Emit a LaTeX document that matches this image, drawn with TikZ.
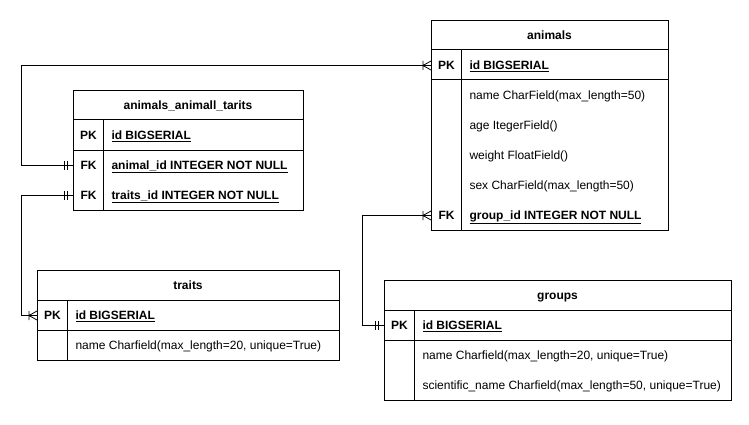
\documentclass[tikz,border=0pt]{standalone}
\usepackage{fontspec}
\setmainfont{Liberation Sans}
\begin{document}
\begin{tikzpicture}[x=1pt,y=-1pt,line width=1pt,
  tbl/.style={draw,anchor=north west,inner sep=0pt},
  hdr/.style={anchor=base,font=\fontsize{12}{14}\selectfont\bfseries,inner sep=0pt},
  keycell/.style={anchor=north west,minimum width=30pt,minimum height=30pt,inner sep=0pt,text height=8.6pt,text depth=0pt,font=\fontsize{12}{14}\selectfont\bfseries},
  fld/.style={anchor=base west,inner sep=0pt,font=\fontsize{12}{14}\selectfont},
  keyfld/.style={anchor=base west,inner sep=0pt,font=\fontsize{12}{14}\selectfont\bfseries},
  crow/.pic={\draw[line width=0.8pt] (-8,-4.5) -- (-8,4.5) (-8,0) -- (0,-4.5) (-8,0) -- (0,4.5);},
  onebar/.pic={\draw[line width=0.8pt] (-9,-4.5) -- (-9,4.5) (-6,-4.5) -- (-6,4.5);}
]
\useasboundingbox (0,0) rectangle (749,425);
\newcommand{\ul}[1]{\underline{#1}}
% ---------- animals ----------
\node[tbl,minimum width=237pt,minimum height=210pt] (animals) at (431,20) {};
\node[hdr] (animals-h) at (549.5,39.3) {animals};
\draw (431,50) -- (668,50) (431,80) -- (668,80) (461,50) -- (461,230);
\node[keycell] (anPK) at (431,50) {PK};
\node[keycell] (anFK) at (431,200) {FK};
\node[keyfld] (an-id) at (469,69.3) {\ul{id BIGSERIAL}};
\node[fld] (an-name) at (469,99.3) {name CharField(max\_length=50)};
\node[fld] (an-age) at (469,129.3) {age ItegerField()};
\node[fld] (an-weight) at (469,159.3) {weight FloatField()};
\node[fld] (an-sex) at (469,189.3) {sex CharField(max\_length=50)};
\node[keyfld] (an-group) at (469,219.3) {\ul{group\_id INTEGER NOT NULL}};
% ---------- animals_animall_tarits ----------
\node[tbl,minimum width=230pt,minimum height=120pt] (aat) at (73,90) {};
\node[hdr] (aat-h) at (188,109.3) {animals\_animall\_tarits};
\draw (73,120) -- (303,120) (73,150) -- (303,150) (103,120) -- (103,210);
\node[keycell] (aatPK) at (73,120) {PK};
\node[keycell] (aatFK1) at (73,150) {FK};
\node[keycell] (aatFK2) at (73,180) {FK};
\node[keyfld] (aat-id) at (111,139.3) {\ul{id BIGSERIAL}};
\node[keyfld] (aat-an) at (111,169.3) {\ul{animal\_id INTEGER NOT NULL}};
\node[keyfld] (aat-tr) at (111,199.3) {\ul{traits\_id INTEGER NOT NULL}};
% ---------- traits ----------
\node[tbl,minimum width=302pt,minimum height=90pt] (traits) at (37,270) {};
\node[hdr] (traits-h) at (188,289.3) {traits};
\draw (37,300) -- (339,300) (37,330) -- (339,330) (67,300) -- (67,360);
\node[keycell] (trPK) at (37,300) {PK};
\node[keyfld] (tr-id) at (75,319.3) {\ul{id BIGSERIAL}};
\node[fld] (tr-name) at (75,349.3) {name Charfield(max\_length=20, unique=True)};
% ---------- groups ----------
\node[tbl,minimum width=347pt,minimum height=120pt] (groups) at (384,280) {};
\node[hdr] (groups-h) at (557.5,299.3) {groups};
\draw (384,310) -- (731,310) (384,340) -- (731,340) (414,310) -- (414,400);
\node[keycell] (grPK) at (384,310) {PK};
\node[keyfld] (gr-id) at (422,329.3) {\ul{id BIGSERIAL}};
\node[fld] (gr-name) at (422,359.3) {name Charfield(max\_length=20, unique=True)};
\node[fld] (gr-sci) at (422,389.3) {scientific\_name Charfield(max\_length=50, unique=True)};
% ---------- connectors ----------
\coordinate (c1) at (21,0);
\coordinate (c2) at (362,0);
\draw (anPK.west) -- (anPK.west -| c1) -- (aatFK1.west -| c1) -- (aatFK1.west);
\draw (aatFK2.west) -- (aatFK2.west -| c1) -- (trPK.west -| c1) -- (trPK.west);
\draw (anFK.west) -- (anFK.west -| c2) -- (grPK.west -| c2) -- (grPK.west);
\pic at (anPK.west) {crow};
\pic at (aatFK1.west) {onebar};
\pic at (aatFK2.west) {onebar};
\pic at (trPK.west) {crow};
\pic at (anFK.west) {crow};
\pic at (grPK.west) {onebar};
\end{tikzpicture}
\end{document}
